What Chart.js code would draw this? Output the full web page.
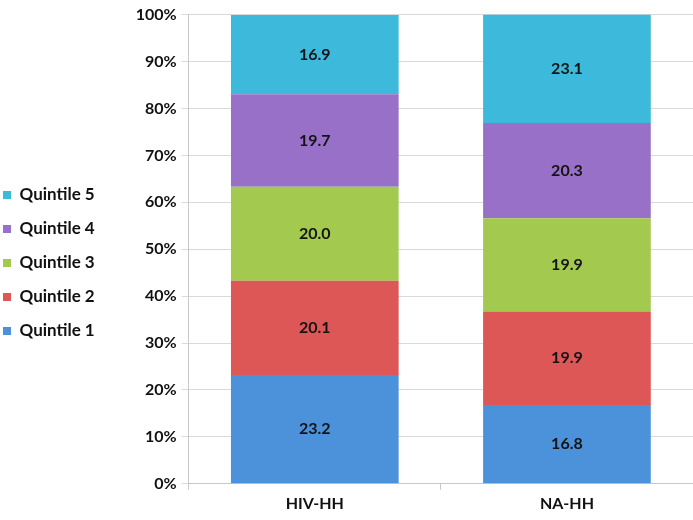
<!DOCTYPE html>
<html>
<head>
<meta charset="utf-8">
<script src="https://cdn.jsdelivr.net/npm/chart.js@4"></script>
<style>
  html, body { margin: 0; padding: 0; background: #fff; }
  #wrap { width: 693px; height: 520px; }
</style>
</head>
<body>
<div id="wrap"><canvas id="chart"></canvas></div>
<script>
const categories = ['HIV-HH', 'NA-HH'];
const seriesNames = ['Quintile 1', 'Quintile 2', 'Quintile 3', 'Quintile 4', 'Quintile 5'];
const quintile1 = [23.2, 16.8];
const quintile2 = [20.1, 19.9];
const quintile3 = [20.0, 19.9];
const quintile4 = [19.7, 20.3];
const quintile5 = [16.9, 23.1];
const colors = ['#4c92da', '#dd5757', '#a3c94e', '#9870c8', '#3db9db'];

const allValues = [quintile1, quintile2, quintile3, quintile4, quintile5];
const font = 'Lato';

// draw the value in the middle of each segment
const barLabels = {
  id: 'barLabels',
  afterDatasetsDraw(chart) {
    const ctx = chart.ctx;
    ctx.save();
    ctx.font = 'bold 16px ' + font;
    ctx.fillStyle = '#141414';
    ctx.textAlign = 'center';
    ctx.textBaseline = 'middle';
    chart.data.datasets.forEach((ds, i) => {
      chart.getDatasetMeta(i).data.forEach((bar, j) => {
        const p = bar.getCenterPoint();
        ctx.fillText(ds.data[j].toFixed(1), p.x, p.y);
      });
    });
    ctx.restore();
  }
};

new Chart(document.getElementById('chart'), {
  type: 'bar',
  data: {
    labels: categories,
    datasets: seriesNames.map((name, i) => ({
      label: name,
      data: allValues[i],
      backgroundColor: colors[i],
      borderWidth: 0,
      categoryPercentage: 1,
      barPercentage: 0.665
    }))
  },
  plugins: [barLabels],
  options: {
    responsive: true,
    maintainAspectRatio: false,
    animation: false,
    layout: { padding: { top: 9, right: 0, left: -14, bottom: 3 } },
    plugins: {
      tooltip: { enabled: false },
      legend: {
        position: 'left',
        reverse: true,
        labels: {
          boxWidth: 8,
          boxHeight: 8,
          padding: 17,
          color: '#111',
          font: { family: font, size: 17, weight: 'bold' }
        }
      }
    },
    scales: {
      x: {
        stacked: true,
        grid: { display: true, drawOnChartArea: false, offset: true, tickLength: 6, color: '#c8c8c8' },
        border: { color: '#c8c8c8' },
        ticks: { color: '#111', padding: 4, font: { family: font, size: 16, weight: 'bold' } }
      },
      y: {
        stacked: true,
        min: 0,
        max: 100,
        afterFit(scale) { scale.width = 84; },
        grid: { color: '#d9d9d9', tickLength: 7 },
        border: { color: '#c8c8c8' },
        ticks: {
          stepSize: 10,
          color: '#111',
          padding: 5,
          font: { family: font, size: 16, weight: 'bold' },
          callback: v => v + '%'
        }
      }
    }
  }
});
</script>
</body>
</html>
